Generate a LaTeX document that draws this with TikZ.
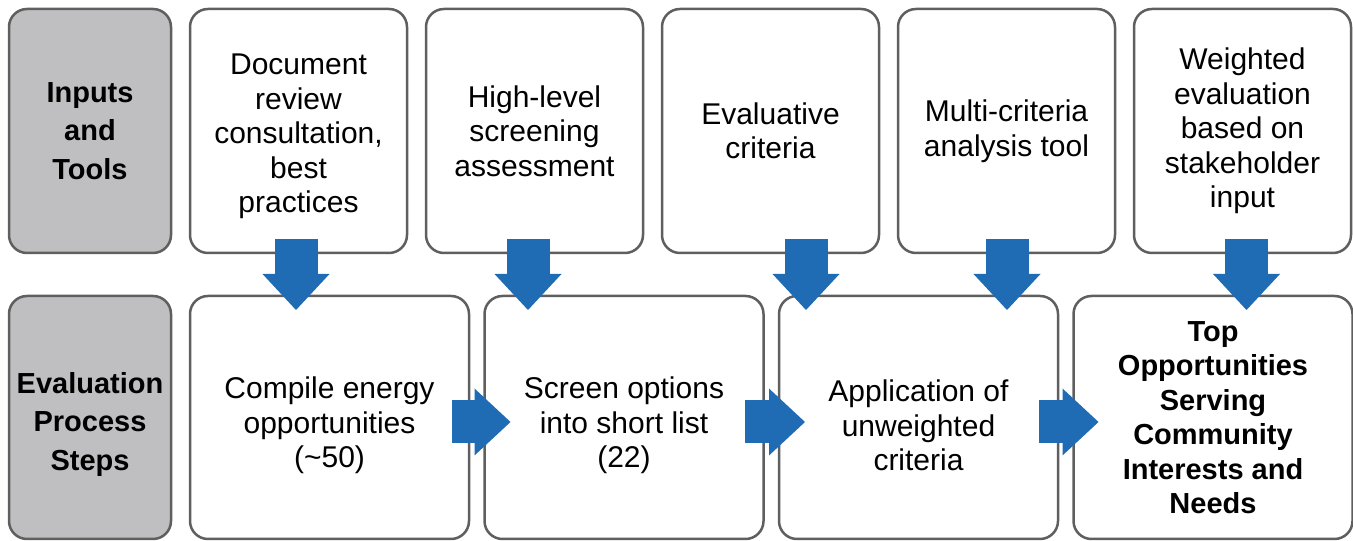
\documentclass[tikz,border=0pt]{standalone}
\usepackage{fontspec}
\setmainfont{Liberation Sans}
\usetikzlibrary{positioning, arrows.meta, calc}
\definecolor{boxline}{RGB}{95,95,95}
\definecolor{labelfill}{RGB}{191,191,193}
\definecolor{arrowblue}{RGB}{31,107,180}
\tikzset{
    x=1pt, y=1pt, % one unit is one pixel of the layout
    card/.style={draw=boxline, line width=2.5pt, rounded corners=18pt, fill=white, outer sep=0pt,
        align=center, font=\fontsize{30}{34.5}\selectfont}, % every rounded box
    topcard/.style={card, minimum width=217pt, minimum height=244pt},
    stepcard/.style={card, minimum width=279pt, minimum height=243pt, text height=107pt}, % text sits a bit low
    rowlabel/.style={card, fill=labelfill, minimum width=162pt, font=\bfseries\fontsize{29}{38.5}\selectfont},
    fatarrow/.style={draw=arrowblue, line width=43pt, -{Triangle[width=67pt, length=36pt, line width=0pt]}}, % block arrows
}

\begin{document}
\begin{tikzpicture}
\useasboundingbox (0,0) rectangle (1353,541);

% inputs and tools
\node[rowlabel, minimum height=244pt] (inputs) at (90,410) {Inputs\\and\\Tools};
\node[topcard, right=19pt of inputs, text height=170pt] (review) {Document\\review\\consultation,\\best\\practices};
\node[topcard, right=19pt of review] (screening) {High-level\\screening\\assessment};
\node[topcard, right=19pt of screening] (criteria) {Evaluative\\criteria};
\node[topcard, right=19pt of criteria] (mca) {Multi-criteria\\analysis tool};
\node[topcard, right=19pt of mca] (weighted) {Weighted\\evaluation\\based on\\stakeholder\\input};

% evaluation process steps
\node[rowlabel, minimum height=243pt, below=43pt of inputs, text height=112pt] (steps) {Evaluation\\Process\\Steps};
\node[stepcard, right=19pt of steps] (compile) {Compile energy\\opportunities\\(\textasciitilde50)};
\node[stepcard, right=15.5pt of compile] (shortlist) {Screen options\\into short list\\(22)};
\node[stepcard, right=15.5pt of shortlist] (apply) {Application of\\unweighted\\criteria};
\node[stepcard, right=15.5pt of apply, text height=, font=\bfseries\fontsize{29}{34.5}\selectfont] (top) {Top\\Opportunities\\Serving\\Community\\Interests and\\Needs};

% inputs feed the steps
\foreach \src/\dst/\dx in {review/compile/-2.5, screening/shortlist/-6.5, criteria/apply/35.5, mca/apply/0.5, weighted/top/4}
    \draw[fatarrow] ($(\src.south)+(\dx,14)$) -- ($(\src.south |- \dst.north)+(\dx,-14)$);

% step to step
\draw[fatarrow] ($(compile.east)+(-17,-4.5)$) -- ($(shortlist.west)+(26,-4.5)$);
\draw[fatarrow] ($(shortlist.east)+(-19,-4.5)$) -- ($(apply.west)+(26,-4.5)$);
\draw[fatarrow] ($(apply.east)+(-19,-4.5)$) -- ($(top.west)+(25,-4.5)$);

\end{tikzpicture}
\end{document}
